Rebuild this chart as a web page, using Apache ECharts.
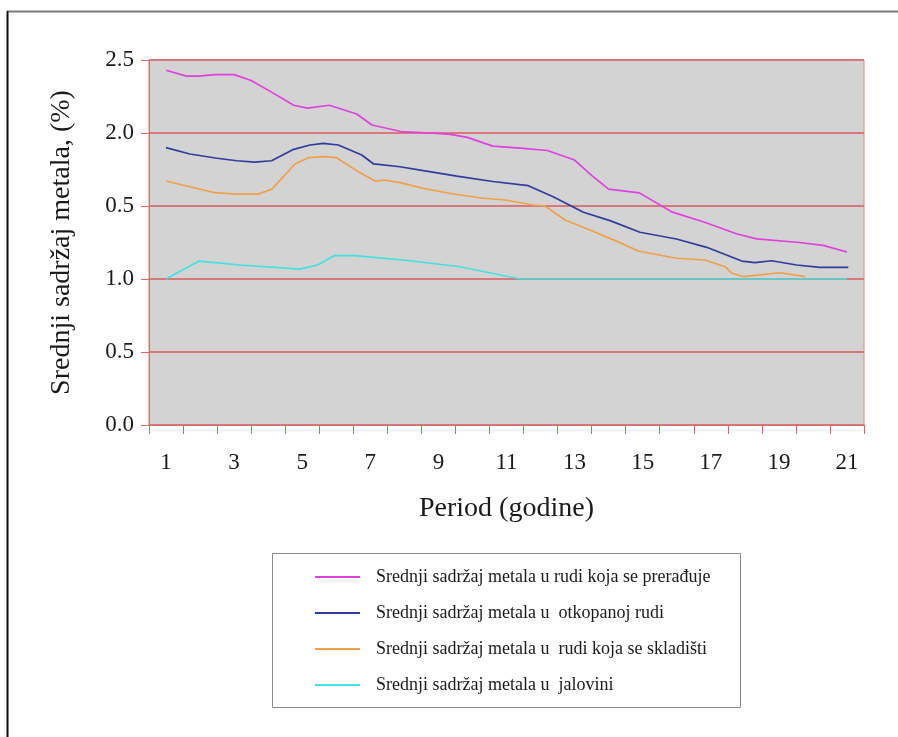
<!DOCTYPE html>
<html>
<head>
<meta charset="utf-8">
<script src="https://cdn.jsdelivr.net/npm/echarts@6/dist/echarts.min.js"></script>
<style>html,body{margin:0;padding:0;background:#fff}#c{width:898px;height:737px}</style>
</head>
<body>
<div id="c"></div>
<script>
// Category labels of the x axis (periods, years)
const periods = ['1','2','3','4','5','6','7','8','9','10','11','12','13','14','15','16','17','18','19','20','21'];
// Y tick labels exactly as printed in the original figure
const yTickLabels = ['0.0','0.5','1.0','0.5','2.0','2.5'];

const seriesNames = [
  'Srednji sadržaj metala u rudi koja se prerađuje',
  'Srednji sadržaj metala u  otkopanoj rudi',
  'Srednji sadržaj metala u  rudi koja se skladišti',
  'Srednji sadržaj metala u  jalovini'
];

// [period, value] pairs
const processedOre = [[1.0,2.43],[1.6,2.39],[1.95,2.39],[2.45,2.40],[3.0,2.40],[3.5,2.36],[4.1,2.28],[4.75,2.19],[5.15,2.17],[5.8,2.19],[6.6,2.13],[7.05,2.055],[7.9,2.01],[8.75,2.0],[9.35,1.99],[9.85,1.97],[10.6,1.91],[11.5,1.895],[12.2,1.88],[13.0,1.815],[13.5,1.71],[14.0,1.615],[14.9,1.59],[15.85,1.46],[16.8,1.39],[17.75,1.31],[18.35,1.275],[19.6,1.25],[20.3,1.23],[21.0,1.185]];
const minedOre = [[1.0,1.90],[1.7,1.856],[2.5,1.827],[3.08,1.81],[3.6,1.80],[4.1,1.81],[4.75,1.888],[5.23,1.918],[5.62,1.929],[6.06,1.918],[6.75,1.849],[7.1,1.788],[7.87,1.769],[8.56,1.742],[9.54,1.705],[10.6,1.668],[11.64,1.639],[12.37,1.564],[13.26,1.457],[14.04,1.40],[14.92,1.32],[15.99,1.274],[16.88,1.217],[17.91,1.123],[18.3,1.112],[18.79,1.125],[19.52,1.096],[20.21,1.08],[21.04,1.08]];
const storedOre = [[1.0,1.671],[1.7,1.632],[2.44,1.591],[3.08,1.582],[3.71,1.582],[4.1,1.614],[4.49,1.712],[4.79,1.788],[5.18,1.831],[5.62,1.838],[6.01,1.831],[6.6,1.742],[7.14,1.671],[7.43,1.678],[7.87,1.66],[8.56,1.621],[9.44,1.582],[10.32,1.553],[10.96,1.541],[11.79,1.507],[12.13,1.50],[12.72,1.404],[13.45,1.336],[14.33,1.249],[14.87,1.192],[15.99,1.142],[16.83,1.13],[17.42,1.084],[17.62,1.039],[17.96,1.016],[19.04,1.043],[19.77,1.016]];
const tailings = [[1.0,1.0],[1.97,1.123],[3.17,1.096],[4.94,1.068],[5.45,1.096],[5.93,1.16],[6.55,1.16],[8.17,1.125],[9.63,1.084],[11.4,1.0],[21.0,1.0]];

const colors = ['#e040e0','#2e3d9c','#f0a04a','#45e0e0'];
const serif = '"Liberation Serif", "DejaVu Serif", serif';
const redLine = '#d46a6a';

const chart = echarts.init(document.getElementById('c'), null, {renderer:'canvas'});
const dataSets = [processedOre, minedOre, storedOre, tailings];

chart.setOption({
  animation: false,
  backgroundColor: '#ffffff',
  color: colors,
  grid: {left:149, top:60, width:715, height:365, show:true, backgroundColor:'#d3d3d3', borderColor:'#d98a8a', borderWidth:1},
  xAxis: [
    {
      type:'category', data: periods, boundaryGap:true, position:'bottom',
      axisLine:{show:true, lineStyle:{color:redLine, width:1}},
      axisTick:{show:true, interval:0, length:9, lineStyle:{color:redLine}},
      axisLabel:{interval:1, fontFamily:serif, fontSize:23, color:'#1a1a1a', margin:26},
      splitLine:{show:false},
      name:'Period (godine)', nameLocation:'middle', nameGap:70,
      nameTextStyle:{fontFamily:serif, fontSize:28, color:'#1a1a1a'}
    },
    {type:'value', min:0.5, max:21.5, show:false}
  ],
  yAxis: {
    type:'value', min:0, max:2.5, interval:0.5,
    axisLine:{show:true, lineStyle:{color:redLine}},
    axisTick:{show:true, length:8, lineStyle:{color:redLine}},
    axisLabel:{fontFamily:serif, fontSize:23, color:'#1a1a1a', margin:15,
      formatter: function(v){ return yTickLabels[Math.round(v/0.5)]; }},
    splitLine:{show:true, lineStyle:{color:'#d97878', width:2}},
    name:'Srednji sadržaj metala, (%)', nameLocation:'middle', nameGap:73, nameRotate:90,
    nameTextStyle:{fontFamily:serif, fontSize:28, color:'#1a1a1a'}
  },
  legend: {
    orient:'vertical', left:315, top:568, padding:0,
    itemWidth:45, itemHeight:14, itemGap:18,
    icon:'path://M0,6 L45,6 L45,8 L0,8 Z',
    textStyle:{fontFamily:serif, fontSize:18, lineHeight:18, color:'#1a1a1a', padding:[0,0,0,11]},
    data: seriesNames
  },
  graphic: [
    {type:'line', shape:{x1:7, y1:11.5, x2:898, y2:11.5}, style:{stroke:'#7a7a7a', lineWidth:2}},
    {type:'line', shape:{x1:7.5, y1:11, x2:7.5, y2:737}, style:{stroke:'#111111', lineWidth:2}},
    {type:'rect', shape:{x:272.5, y:553.5, width:468, height:154}, style:{fill:'none', stroke:'#8a8a8a', lineWidth:1}}
  ],
  series: dataSets.map(function(d, i){
    return {
      name: seriesNames[i], type:'line', xAxisIndex:1, data:d,
      showSymbol:false, symbol:'none', lineStyle:{width:1.7, color:colors[i]},
      itemStyle:{color:colors[i]}, z: 3
    };
  })
});
</script>
</body>
</html>
